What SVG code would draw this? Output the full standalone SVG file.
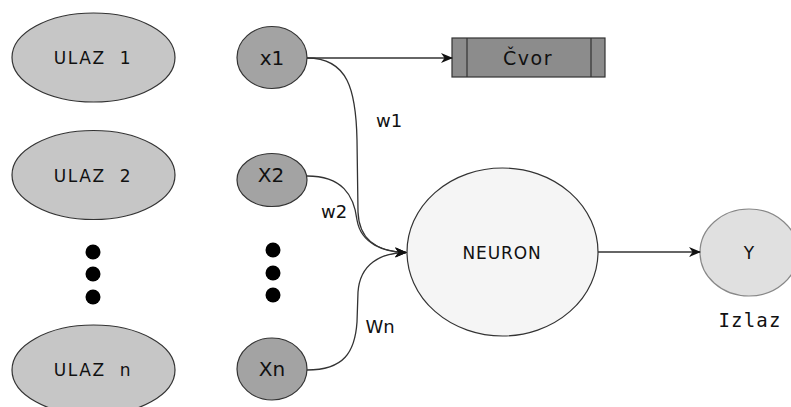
<svg xmlns="http://www.w3.org/2000/svg" width="791" height="407" viewBox="0 0 791 407">
<style>
  .st { stroke: #333; stroke-width: 1.2; }
  .ulaz { fill: #c6c6c6; }
  .xin { fill: #a3a3a3; }
  .t { font-family: "DejaVu Sans", Verdana, sans-serif; fill: #111; text-anchor: middle; }
  .big { font-size: 17px; letter-spacing: 1.6px; word-spacing: 7px; }
  .xl { font-size: 20px; }
  .wl { font-size: 18px; }
  .mono { font-family: "DejaVu Sans Mono", "Liberation Mono", monospace; font-size: 19px; letter-spacing: 1.2px; fill: #111; text-anchor: middle; }
  .conn { fill: none; stroke: #333; stroke-width: 1.3; }
  .dot { fill: #000; }
</style>
<defs>
  <marker id="arr" markerWidth="12" markerHeight="10" refX="11" refY="5" orient="auto" markerUnits="userSpaceOnUse">
    <path d="M0,0 L12,5 L0,10 L3.5,5 Z" fill="#111"/>
  </marker>
</defs>
<rect width="791" height="407" fill="#fff"/>

<g id="ulaz1"><ellipse class="ulaz st" cx="93.5" cy="57.5" rx="81.5" ry="44.5"/><text class="t big" x="93" y="64">ULAZ 1</text></g>
<g id="ulaz2"><ellipse class="ulaz st" cx="93.5" cy="175" rx="81.5" ry="44.5"/><text class="t big" x="93" y="182">ULAZ 2</text></g>
<g id="ulazn"><ellipse class="ulaz st" cx="93.5" cy="370" rx="81.5" ry="45"/><text class="t big" x="93" y="376">ULAZ n</text></g>

<g id="dots-left"><circle class="dot" cx="93" cy="252" r="7.5"/><circle class="dot" cx="93" cy="274" r="7.5"/><circle class="dot" cx="93" cy="297" r="7.5"/></g>
<g id="dots-right"><circle class="dot" cx="273" cy="250" r="7.5"/><circle class="dot" cx="273" cy="273" r="7.5"/><circle class="dot" cx="273" cy="295" r="7.5"/></g>

<g id="x1"><ellipse class="xin st" cx="272" cy="57.5" rx="35" ry="31"/><text class="t xl" x="272" y="65">x1</text></g>
<g id="x2"><ellipse class="xin st" cx="272" cy="180" rx="35" ry="26.5"/><text class="t xl" x="271" y="182">X2</text></g>
<g id="xn"><ellipse class="xin st" cx="272" cy="369" rx="35" ry="31"/><text class="t xl" x="272" y="376">Xn</text></g>

<g id="cvor">
  <rect x="452" y="38" width="153" height="39" fill="#8c8c8c" class="st"/>
  <line x1="467" y1="38" x2="467" y2="77" class="st"/>
  <line x1="591" y1="38" x2="591" y2="77" class="st"/>
  <text class="t" x="528" y="65" style="font-size:19px;letter-spacing:1.5px">Čvor</text>
</g>

<g id="neuron"><ellipse cx="502.5" cy="252" rx="95.5" ry="84" fill="#f5f5f5" class="st"/><text class="t" x="502" y="259" style="font-size:17px;letter-spacing:0.9px">NEURON</text></g>

<g id="y"><ellipse cx="749" cy="252.5" rx="49" ry="43.5" fill="#e0e0e0" stroke="#888" stroke-width="1.2"/><text class="t" x="749" y="259" style="font-size:17px">Y</text></g>
<text class="mono" x="750" y="327">Izlaz</text>

<g id="connectors">
  <path class="conn" d="M307,58 L452,58" marker-end="url(#arr)"/>
  <path class="conn" d="M307,58 C348,58 356,90 357,140 L358,212 C359,240 378,252 406,252.5" marker-end="url(#arr)"/>
  <path class="conn" d="M307,176 C342,176 354,195 357,220 C361,244 384,252 406,252.5" marker-end="url(#arr)"/>
  <path class="conn" d="M307,370 C344,370 355,352 357,322 L358,292 C360,264 380,253 406,252.5" marker-end="url(#arr)"/>
  <path class="conn" d="M598,252 L700,252" marker-end="url(#arr)"/>
  <text class="t wl" x="389" y="127">w1</text>
  <text class="t wl" x="334" y="218">w2</text>
  <text class="t wl" x="380" y="333">Wn</text>
</g>
</svg>
